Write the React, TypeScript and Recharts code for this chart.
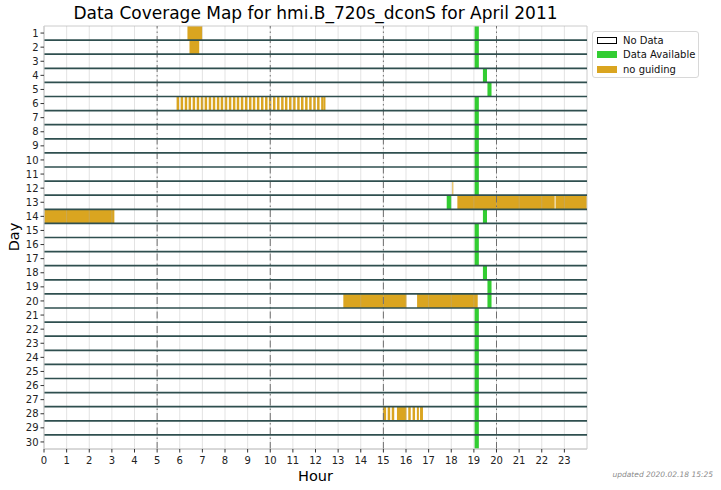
import React from 'react';
import {
  ComposedChart,
  XAxis,
  YAxis,
  ReferenceArea,
  ReferenceLine,
} from 'recharts';

// ---- categories / ticks ----
const DAYS = [
  1, 2, 3, 4, 5, 6, 7, 8, 9, 10, 11, 12, 13, 14, 15,
  16, 17, 18, 19, 20, 21, 22, 23, 24, 25, 26, 27, 28, 29, 30,
];
const HOUR_TICKS = [
  0, 1, 2, 3, 4, 5, 6, 7, 8, 9, 10, 11, 12, 13, 14, 15, 16, 17, 18, 19, 20, 21, 22, 23,
];
const MAJOR_HOURS = [5, 10, 15, 20];

// ---- series: [day, startHour, endHour] ----
const DATA_AVAILABLE: [number, number, number][] = [
  [1, 19.03, 19.22], [2, 19.03, 19.22], [3, 19.03, 19.22],
  [4, 19.4, 19.58], [5, 19.6, 19.78],
  [6, 19.03, 19.22], [7, 19.03, 19.22], [8, 19.03, 19.22], [9, 19.03, 19.22],
  [10, 19.03, 19.22], [11, 19.03, 19.22], [12, 19.03, 19.22],
  [13, 17.8, 18.0],
  [14, 19.4, 19.58],
  [15, 19.03, 19.22], [16, 19.03, 19.22], [17, 19.03, 19.22],
  [18, 19.4, 19.58], [19, 19.6, 19.78], [20, 19.6, 19.78],
  [21, 19.03, 19.22], [22, 19.03, 19.22], [23, 19.03, 19.22], [24, 19.03, 19.22],
  [25, 19.03, 19.22], [26, 19.03, 19.22], [27, 19.03, 19.22], [28, 19.03, 19.22],
  [29, 19.03, 19.22], [30, 19.03, 19.22],
];

const NO_GUIDING: [number, number, number][] = [
  [1, 6.34, 6.99],
  [2, 6.43, 6.86],
  [6, 5.86, 5.97], [6, 6.04, 6.15], [6, 6.22, 6.33], [6, 6.39, 6.5], [6, 6.57, 6.68],
  [6, 6.75, 6.86], [6, 6.93, 7.04], [6, 7.1, 7.21], [6, 7.28, 7.39], [6, 7.46, 7.57],
  [6, 7.64, 7.75], [6, 7.81, 7.92], [6, 7.99, 8.1], [6, 8.17, 8.28], [6, 8.35, 8.46],
  [6, 8.52, 8.63], [6, 8.7, 8.81], [6, 8.88, 8.99], [6, 9.06, 9.17], [6, 9.23, 9.34],
  [6, 9.41, 9.52], [6, 9.59, 9.7], [6, 9.77, 9.88], [6, 9.94, 10.05], [6, 10.12, 10.23],
  [6, 10.3, 10.41], [6, 10.48, 10.59], [6, 10.65, 10.76], [6, 10.83, 10.94], [6, 11.01, 11.12],
  [6, 11.19, 11.3], [6, 11.36, 11.47], [6, 11.54, 11.65], [6, 11.72, 11.83], [6, 11.9, 12.01],
  [6, 12.07, 12.18], [6, 12.25, 12.36], [6, 12.36, 12.44],
  [12, 18.05, 18.09],
  [13, 18.27, 22.57], [13, 22.61, 24.0],
  [14, 0.0, 3.11],
  [20, 13.23, 16.02], [20, 16.49, 19.17],
  [28, 14.98, 15.12], [28, 15.19, 15.3], [28, 15.37, 15.48], [28, 15.6, 16.02],
  [28, 16.1, 16.21], [28, 16.29, 16.4], [28, 16.48, 16.57], [28, 16.62, 16.75],
];

const GREEN = '#32cd32';
const GOLD = '#daa520';
const FONT = '"DejaVu Sans", sans-serif';

const chartData = DAYS.map((d) => ({ day: d }));
const separators = DAYS.slice(0, -1).map((d) => d + 0.5);

export default function App() {
  return (
    <div
      style={{
        position: 'absolute',
        left: 0,
        top: 0,
        width: 721,
        height: 490,
        background: '#fff',
        fontFamily: FONT,
      }}
    >
      <div
        style={{
          position: 'absolute',
          left: 0,
          width: 631,
          top: 3,
          textAlign: 'center',
          fontSize: 17,
          lineHeight: '21px',
          color: '#000',
        }}
      >
        Data Coverage Map for hmi.B_720s_dconS for April 2011
      </div>

      <ComposedChart
        width={721}
        height={490}
        data={chartData}
        margin={{ top: 26, right: 134, bottom: 0, left: 0 }}
        style={{ fontFamily: FONT }}
      >
        <XAxis
          type="number"
          dataKey="day"
          domain={[0, 24]}
          allowDataOverflow
          ticks={HOUR_TICKS}
          interval={0}
          height={41}
          axisLine={{ stroke: '#cccccc' }}
          tickLine={{ stroke: '#333' }}
          tickSize={3.5}
          tickMargin={4}
          tick={{ fontSize: 10, fill: '#222', fontFamily: FONT }}
        />
        <YAxis
          type="number"
          dataKey="day"
          domain={[0.5, 30.5]}
          allowDataOverflow
          reversed
          ticks={DAYS}
          interval={0}
          width={44}
          axisLine={{ stroke: '#cccccc' }}
          tickLine={{ stroke: '#333' }}
          tickSize={3.5}
          tick={{ fontSize: 10, fill: '#222', fontFamily: FONT }}
        />

        {DATA_AVAILABLE.map(([d, s, e], i) => (
          <ReferenceArea
            key={`g${i}`}
            x1={s}
            x2={e}
            y1={d - 0.5}
            y2={d + 0.5}
            fill={GREEN}
            fillOpacity={1}
            stroke="none"
            ifOverflow="extendDomain"
          />
        ))}
        {NO_GUIDING.map(([d, s, e], i) => (
          <ReferenceArea
            key={`o${i}`}
            x1={s}
            x2={e}
            y1={d - 0.5}
            y2={d + 0.5}
            fill={GOLD}
            fillOpacity={1}
            stroke="none"
            ifOverflow="extendDomain"
          />
        ))}

        {HOUR_TICKS.filter((h) => h > 0).map((h) => (
          <ReferenceLine
            key={`h${h}`}
            x={h}
            stroke="#b0b0b0"
            strokeOpacity={0.35}
            strokeWidth={1}
          />
        ))}
        {MAJOR_HOURS.map((h) => (
          <ReferenceLine
            key={`m${h}`}
            x={h}
            stroke="#707070"
            strokeWidth={1}
            strokeDasharray="7 3 1.5 3"
          />
        ))}
        {separators.map((y) => (
          <ReferenceLine
            key={`s${y}`}
            y={y}
            stroke="#2f4f4f"
            strokeWidth={1.7}
          />
        ))}
        <ReferenceArea
          x1={0}
          x2={24}
          y1={0.5}
          y2={30.5}
          fill="none"
          fillOpacity={0}
          stroke="#cccccc"
          strokeWidth={1}
        />
      </ComposedChart>

      <div
        style={{
          position: 'absolute',
          left: 0,
          width: 631,
          top: 468,
          textAlign: 'center',
          fontSize: 14.5,
          lineHeight: '17px',
          color: '#000',
        }}
      >
        Hour
      </div>
      <div
        style={{
          position: 'absolute',
          left: 14,
          top: 237,
          fontSize: 14.5,
          lineHeight: '17px',
          color: '#000',
          transform: 'translate(-50%, -50%) rotate(-90deg)',
          whiteSpace: 'nowrap',
        }}
      >
        Day
      </div>

      {/* legend */}
      <div
        style={{
          position: 'absolute',
          left: 592,
          top: 31,
          width: 107,
          height: 47,
          border: '1px solid #d8d8d8',
          borderRadius: 3,
          boxSizing: 'border-box',
          fontSize: 10,
          color: '#111',
        }}
      >
        {[
          { label: 'No Data', fill: '#fff', border: '#000' },
          { label: 'Data Available', fill: GREEN, border: GREEN },
          { label: 'no guiding', fill: GOLD, border: GOLD },
        ].map((it, i) => (
          <div
            key={it.label}
            style={{
              position: 'absolute',
              left: 4,
              top: 2 + i * 14.8,
              height: 12,
              display: 'flex',
              alignItems: 'center',
              whiteSpace: 'nowrap',
            }}
          >
            <span
              style={{
                display: 'inline-block',
                width: 20,
                height: 7,
                background: it.fill,
                border: `1px solid ${it.border}`,
                boxSizing: 'border-box',
                marginRight: 6,
              }}
            />
            <span>{it.label}</span>
          </div>
        ))}
      </div>

      <div
        style={{
          position: 'absolute',
          right: 8,
          top: 470,
          fontSize: 7.5,
          fontStyle: 'italic',
          color: '#8a8a8a',
          whiteSpace: 'nowrap',
        }}
      >
        updated 2020.02.18 15:25
      </div>
    </div>
  );
}
